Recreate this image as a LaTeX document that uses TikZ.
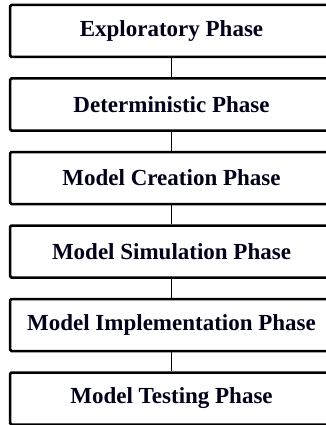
\documentclass[tikz,border=0pt]{standalone}
\usepackage{fontspec}
\setmainfont{Liberation Serif}
\begin{document}
\begin{tikzpicture}[x=1pt,y=-1pt,
  phase/.style={draw=black, line width=2.5pt, rounded corners=1.5pt, fill=white,
    minimum width=323pt, minimum height=52pt, inner sep=0pt,
    font=\fontsize{23}{27}\selectfont\bfseries, text=black!90!blue},
  link/.style={draw=black, line width=1.5pt}]
  \useasboundingbox (0,0) rectangle (325,425);
  \node[phase] (p1) at (171.5,31)    {Exploratory Phase};
  \node[phase] (p2) at (171.5,104.5) {Deterministic Phase};
  \node[phase] (p3) at (171.5,178)   {Model Creation Phase};
  \node[phase] (p4) at (171.5,251.5) {Model Simulation Phase};
  \node[phase] (p5) at (171.5,325)   {Model Implementation Phase};
  \node[phase] (p6) at (171.5,398.5) {Model Testing Phase};
  \foreach \a/\b in {p1/p2,p2/p3,p3/p4,p4/p5,p5/p6}
    \draw[link] (\a.south) -- (\b.north);
\end{tikzpicture}
\end{document}
